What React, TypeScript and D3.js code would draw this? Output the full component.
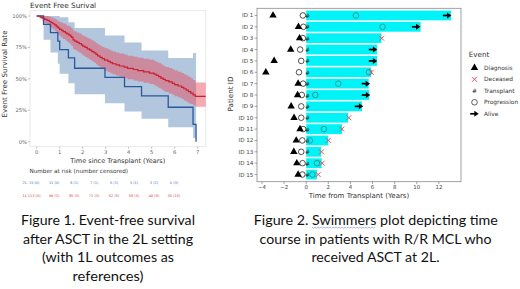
import React, { useLayoutEffect, useRef, useState } from 'react';
import * as d3 from 'd3';

const W = 520;
const H = 289;

// ---------- Figure 1: Kaplan-Meier (event free survival) ----------
const kmTitle = 'Event Free Surival';
const kmXTicks = [0, 1, 2, 3, 4, 5, 6, 7];
const kmYTicks = [0, 0.25, 0.5, 0.75, 1];

// 2L (blue)
const blueTimes = [0, 0.3, 0.6, 0.92, 1.0, 1.38, 1.65, 2.97, 3.82, 4.56, 5.72, 6.8, 6.93];
const blueSurv = [1, 0.933, 0.867, 0.8, 0.733, 0.667, 0.584, 0.511, 0.438, 0.365, 0.274, 0.137, 0];
const blueLower = [1, 0.81, 0.71, 0.62, 0.54, 0.465, 0.377, 0.305, 0.24, 0.182, 0.115, 0.03, 0.03];
const blueUpper = [1, 1, 1, 1, 0.99, 0.95, 0.905, 0.845, 0.79, 0.725, 0.665, 0.705, 0.705];

// 1L (red)
const redTimes = [0, 0.15, 0.25, 0.35, 0.45, 0.55, 0.62, 0.7, 0.78, 0.85, 0.9, 0.95, 1.0, 1.08, 1.15, 1.25, 1.32, 1.4, 1.48, 1.52, 1.58, 1.65, 1.75, 1.85, 1.95, 2.0, 2.1, 2.2, 2.3, 2.4, 2.5, 2.58, 2.65, 2.75, 2.85, 2.95, 3.1, 3.2, 3.3, 3.45, 3.6, 3.8, 3.95, 4.2, 4.4, 4.65, 4.9, 5.1, 5.2, 5.3, 5.4, 5.5, 5.6, 5.75, 5.9, 6.0, 6.15, 6.3, 6.4, 6.5, 6.6, 6.7, 6.8, 6.9];
const redSurv = [1, 0.991, 0.982, 0.973, 0.965, 0.956, 0.947, 0.938, 0.929, 0.92, 0.911, 0.903, 0.894, 0.885, 0.876, 0.866, 0.857, 0.848, 0.838, 0.829, 0.81, 0.8, 0.79, 0.78, 0.77, 0.76, 0.75, 0.739, 0.728, 0.717, 0.706, 0.695, 0.683, 0.671, 0.66, 0.648, 0.639, 0.629, 0.62, 0.611, 0.602, 0.593, 0.583, 0.574, 0.565, 0.556, 0.546, 0.537, 0.527, 0.517, 0.506, 0.495, 0.485, 0.475, 0.464, 0.454, 0.443, 0.432, 0.421, 0.41, 0.398, 0.386, 0.373, 0.36];
const redLower = [1, 0.974, 0.958, 0.944, 0.931, 0.919, 0.906, 0.894, 0.882, 0.871, 0.86, 0.849, 0.838, 0.827, 0.816, 0.805, 0.794, 0.783, 0.772, 0.762, 0.74, 0.729, 0.718, 0.707, 0.696, 0.685, 0.674, 0.662, 0.651, 0.639, 0.627, 0.615, 0.603, 0.59, 0.579, 0.565, 0.555, 0.545, 0.536, 0.526, 0.517, 0.507, 0.497, 0.487, 0.478, 0.468, 0.458, 0.448, 0.438, 0.428, 0.417, 0.406, 0.395, 0.384, 0.373, 0.362, 0.351, 0.34, 0.328, 0.317, 0.305, 0.3, 0.29, 0.278];
const redUpper = [1, 1, 1, 1, 0.999, 0.994, 0.989, 0.984, 0.978, 0.972, 0.965, 0.959, 0.953, 0.946, 0.94, 0.932, 0.925, 0.918, 0.91, 0.902, 0.886, 0.877, 0.868, 0.86, 0.851, 0.842, 0.834, 0.824, 0.815, 0.805, 0.795, 0.785, 0.774, 0.763, 0.753, 0.744, 0.735, 0.726, 0.718, 0.709, 0.701, 0.693, 0.684, 0.676, 0.668, 0.66, 0.651, 0.643, 0.634, 0.625, 0.615, 0.605, 0.595, 0.586, 0.576, 0.566, 0.556, 0.546, 0.536, 0.526, 0.516, 0.505, 0.49, 0.47];
const redEndTime = 7.35;

const riskGroups = ['2L', '1L'];
const risk2L = ['15 (0)', '11 (0)', '8 (1)', '7 (1)', '6 (1)', '5 (1)', '3 (2)', '0 (3)'];
const risk1L = ['113 (0)', '99 (2)', '85 (3)', '71 (3)', '62 (5)', '58 (5)', '46 (8)', '30 (15)'];

const caption1 = ['Figure 1. Event-free survival', 'after ASCT in the 2L setting', '(with 1L outcomes as', 'references)'];
const caption1Widths = [174, 170, 132, 71];

// ---------- Figure 2: Swimmer plot ----------
const patientIds = ['ID 1', 'ID 2', 'ID 3', 'ID 4', 'ID 5', 'ID 6', 'ID 7', 'ID 8', 'ID 9', 'ID 10', 'ID 11', 'ID 12', 'ID 13', 'ID 14', 'ID 15'];
const diagnosisTime = [-3.0, -0.7, -0.6, -1.4, -2.9, -3.65, -0.73, -0.78, -1.36, -1.1, -0.56, -0.9, -1.12, -0.85, -0.73];
const preProgressionTime = [-0.3, -0.25, -0.3, -0.55, -0.45, -0.65, -0.28, -0.4, -0.45, -0.45, -0.28, -0.35, -0.45, -0.33, -0.35];
const transplantTime = [0, 0, 0, 0, 0, 0, 0, 0, 0, 0, 0, 0, 0, 0, 0];
const followUpEnd = [13.1, 10.35, 6.8, 6.4, 6.4, 5.85, 5.65, 5.7, 5.05, 3.8, 3.25, 2.0, 1.35, 1.4, 0.97];
const postProgressionTime = [4.5, 6.9, null, null, null, 5.68, 2.9, 0.82, null, null, 1.6, 0.33, null, 0.97, 0.56];
const deceasedTime = [null, null, 6.82, null, null, 5.88, null, null, null, 3.85, 3.22, 2.0, 1.38, 1.44, 1.08];
const aliveTime = [12.75, 9.95, null, 6.05, 6.05, null, 5.4, 5.42, 4.78, null, null, null, null, null, null];
const swimXTicks = [-4, -2, 0, 2, 4, 6, 8, 10, 12];
const legendTitle = 'Event';
const legendItems = ['Diagnosis', 'Deceased', 'Transplant', 'Progression', 'Alive'];

const caption2 = ['Figure 2. ', 'Swimmers', ' plot depicting time'];
const caption2Lines = ['course in patients with R/R MCL who', 'received ASCT at 2L.'];
const caption2Widths = [244, 232, 128];

const FONT = 'DejaVu Sans';
const CAP_FONT = 'Lato';

const COLORS = {
  blueLine: '#2b579e',
  blueBand: '#b2c6de',
  redLine: '#cc1f30',
  redBand: '#e8404f',
  cyan: '#00f3f6',
  teal: '#2a9090',
  cross: '#e4505e',
};

const triPath = d3.symbol(d3.symbolTriangle, 24)() as string;
const crossPath = 'M-2.5,-2.5L2.5,2.5M-2.5,2.5L2.5,-2.5';

function Arrow({ x, y }: { x: number; y: number }) {
  return (
    <g transform={`translate(${x},${y})`}>
      <path d="M-4.3,0H0.8" stroke="#000" strokeWidth={1.7} />
      <path d="M-0.2,-3L4.2,0L-0.2,3Z" fill="#000" />
    </g>
  );
}

export default function App() {
  const swRef = useRef<SVGTSpanElement>(null);
  const [ul, setUl] = useState<{ x: number; w: number } | null>(null);

  useLayoutEffect(() => {
    const measure = () => {
      if (swRef.current) {
        const b = swRef.current.getBBox();
        setUl({ x: b.x, w: b.width });
      }
    };
    measure();
    if ((document as any).fonts) (document as any).fonts.ready.then(measure);
  }, []);

  // KM scales
  const kx = d3.scaleLinear().domain([-0.29, 7.35]).range([30, 205.7]);
  const ky = d3.scaleLinear().domain([-0.04, 1.042]).range([146.7, 10.7]);

  const blue = blueTimes.map((t, i) => ({ t, s: blueSurv[i], lo: blueLower[i], hi: blueUpper[i] }));
  const red = redTimes.map((t, i) => ({ t, s: redSurv[i], lo: redLower[i], hi: redUpper[i] }));
  const redFull = [...red, { ...red[red.length - 1], t: redEndTime }];
  const blueBandPts = blue.slice(0, -1).concat([{ ...blue[blue.length - 2], t: blueTimes[blueTimes.length - 1] }]);

  const line = d3
    .line<{ t: number; s: number }>()
    .x((d) => kx(d.t))
    .y((d) => ky(d.s))
    .curve(d3.curveStepAfter);
  const band = d3
    .area<{ t: number; lo: number; hi: number }>()
    .x((d) => kx(d.t))
    .y0((d) => ky(d.lo))
    .y1((d) => ky(d.hi))
    .curve(d3.curveStepAfter);

  const riskX = d3.scaleLinear().domain([0, 7]).range([34.2, 174]);

  // Swimmer scales
  const sx = d3.scaleLinear().domain([-4.45, 14.0]).range([257, 461]);
  const sy = d3.scaleLinear().domain([-0.63, 14.63]).range([8.3, 181.7]);
  const barH = sy(0.43) - sy(-0.43);

  const legendY = d3.scaleLinear().domain([0, 4]).range([67.8, 113.8]);

  // wavy underline
  let wavy = '';
  if (ul) {
    const pts = d3.range(0, Math.floor(ul.w / 1.5) + 1).map((k) => [ul.x + k * 1.5, 227.6 + (k % 2 === 0 ? -0.6 : 0.6)]);
    wavy = d3.line()(pts as [number, number][]) || '';
  }

  return (
    <svg width={W} height={H} style={{ position: 'absolute', left: 0, top: 0, background: '#fff' }} fontFamily={FONT}>
      <rect x={0} y={0} width={W} height={H} fill="#fff" />

      {/* ================= Figure 1 ================= */}
      <text x={30} y={7.6} fontSize={7.3} fill="#333">
        {kmTitle}
      </text>
      <rect x={30} y={10.7} width={175.7} height={136} fill="#fff" stroke="#e4e4e4" strokeWidth={0.8} />

      <path d={band(blueBandPts) || ''} fill={COLORS.blueBand} />
      <path d={band(redFull) || ''} fill={COLORS.redBand} fillOpacity={0.45} />
      <path d={line(blue) || ''} fill="none" stroke={COLORS.blueLine} strokeWidth={1.3} />
      <path d={line(redFull) || ''} fill="none" stroke={COLORS.redLine} strokeWidth={1.2} />

      {kmYTicks.map((v) => (
        <g key={'ky' + v}>
          <line x1={28} x2={30} y1={ky(v)} y2={ky(v)} stroke="#999" strokeWidth={0.6} />
          <text x={27} y={ky(v)} fontSize={5.2} fill="#666" textAnchor="end" dominantBaseline="central">
            {`${Math.round(v * 100)}%`}
          </text>
        </g>
      ))}
      {kmXTicks.map((v) => (
        <g key={'kx' + v}>
          <line x1={kx(v)} x2={kx(v)} y1={146.7} y2={148.7} stroke="#999" strokeWidth={0.6} />
          <text x={kx(v)} y={153.6} fontSize={5.2} fill="#666" textAnchor="middle">
            {v}
          </text>
        </g>
      ))}
      <text x={117.8} y={162.6} fontSize={6.5} fill="#333" textAnchor="middle">
        Time since Transplant (Years)
      </text>
      <text transform="translate(7.4,74) rotate(-90)" fontSize={7.1} fill="#333" textAnchor="middle">
        Event Free Survival Rate
      </text>
      <text x={29.4} y={172.6} fontSize={5.7} fill="#333">
        Number at risk (number censored)
      </text>

      {riskGroups.map((g, gi) => {
        const vals = gi === 0 ? risk2L : risk1L;
        const col = gi === 0 ? '#4b6fb3' : '#d8404d';
        const y = gi === 0 ? 183 : 195.6;
        return (
          <g key={g}>
            <text x={22.6} y={y} fontSize={3.7} fill={col} dominantBaseline="central">
              {g}
            </text>
            {vals.map((v, i) => (
              <text key={i} x={riskX(i)} y={y} fontSize={3.5} fill={col} textAnchor="middle" dominantBaseline="central">
                {v}
              </text>
            ))}
          </g>
        );
      })}

      {caption1.map((t, i) => (
        <text
          key={'c1' + i}
          x={108}
          y={225 + i * 18.7}
          fontFamily={CAP_FONT}
          fontSize={13.8}
          fill="#111"
          textAnchor="middle"
          textLength={caption1Widths[i]}
          lengthAdjust="spacingAndGlyphs"
        >
          {t}
        </text>
      ))}

      {/* ================= Figure 2 ================= */}
      {patientIds.map((id, i) => (
        <rect key={'bar' + id} x={sx(transplantTime[i])} y={sy(i) - barH / 2} width={sx(followUpEnd[i]) - sx(transplantTime[i])} height={barH} fill={COLORS.cyan} />
      ))}
      <rect x={257} y={8.3} width={204} height={173.4} fill="none" stroke="#8a8a8a" strokeWidth={0.8} />

      {patientIds.map((id, i) => (
        <g key={'mk' + id}>
          <circle cx={sx(preProgressionTime[i])} cy={sy(i)} r={2.8} fill="none" stroke="#222" strokeWidth={0.8} />
          <path d={triPath} transform={`translate(${sx(diagnosisTime[i])},${sy(i)})`} fill="#000" />
          <text x={sx(transplantTime[i]) + 1.2} y={sy(i)} fontSize={6} textAnchor="middle" dominantBaseline="central" fill="#111">
            #
          </text>
          {postProgressionTime[i] !== null && (
            <circle cx={sx(postProgressionTime[i] as number)} cy={sy(i)} r={2.8} fill="none" stroke={COLORS.teal} strokeWidth={0.9} />
          )}
          {deceasedTime[i] !== null && (
            <path d={crossPath} transform={`translate(${sx(deceasedTime[i] as number)},${sy(i)})`} stroke={COLORS.cross} strokeWidth={1} fill="none" />
          )}
          {aliveTime[i] !== null && <Arrow x={sx(aliveTime[i] as number)} y={sy(i)} />}
        </g>
      ))}

      {patientIds.map((id, i) => (
        <g key={'yt' + id}>
          <line x1={254.6} x2={257} y1={sy(i)} y2={sy(i)} stroke="#666" strokeWidth={0.6} />
          <text x={253.4} y={sy(i)} fontSize={5.6} fill="#444" textAnchor="end" dominantBaseline="central">
            {id}
          </text>
        </g>
      ))}
      {swimXTicks.map((v) => (
        <g key={'sx' + v}>
          <line x1={sx(v)} x2={sx(v)} y1={181.7} y2={184.1} stroke="#666" strokeWidth={0.6} />
          <text x={sx(v)} y={189.4} fontSize={5.4} fill="#444" textAnchor="middle">
            {v < 0 ? `\u2212${Math.abs(v)}` : v}
          </text>
        </g>
      ))}
      <text x={359} y={197.6} fontSize={7} fill="#333" textAnchor="middle">
        Time from Transplant (Years)
      </text>
      <text transform="translate(232.6,94) rotate(-90)" fontSize={7.2} fill="#333" textAnchor="middle">
        Patient ID
      </text>

      {/* legend */}
      <text x={468.8} y={57} fontSize={7.2} fill="#333">
        {legendTitle}
      </text>
      {legendItems.map((name, i) => {
        const y = legendY(i);
        const mx = 474.5;
        let marker: React.ReactNode = null;
        if (name === 'Diagnosis') marker = <path d={triPath} transform={`translate(${mx},${y})`} fill="#000" />;
        if (name === 'Deceased') marker = <path d={crossPath} transform={`translate(${mx},${y})`} stroke={COLORS.cross} strokeWidth={1} fill="none" />;
        if (name === 'Transplant')
          marker = (
            <text x={mx} y={y} fontSize={6} textAnchor="middle" dominantBaseline="central" fill="#111">
              #
            </text>
          );
        if (name === 'Progression') marker = <circle cx={mx} cy={y} r={2.8} fill="none" stroke="#333" strokeWidth={0.8} />;
        if (name === 'Alive') marker = <Arrow x={mx} y={y} />;
        return (
          <g key={name}>
            {marker}
            <text x={484} y={y} fontSize={5.9} fill="#333" dominantBaseline="central">
              {name}
            </text>
          </g>
        );
      })}

      {/* caption 2 */}
      <text x={375.8} y={225} fontFamily={CAP_FONT} fontSize={13.8} fill="#111" textAnchor="middle" textLength={caption2Widths[0]} lengthAdjust="spacingAndGlyphs">
        <tspan>{caption2[0]}</tspan>
        <tspan ref={swRef}>{caption2[1]}</tspan>
        <tspan>{caption2[2]}</tspan>
      </text>
      {wavy && <path d={wavy} fill="none" stroke="#8ea6e3" strokeWidth={0.8} />}
      {caption2Lines.map((t, i) => (
        <text
          key={'c2' + i}
          x={375.5}
          y={225 + (i + 1) * 18.7}
          fontFamily={CAP_FONT}
          fontSize={13.8}
          fill="#111"
          textAnchor="middle"
          textLength={caption2Widths[i + 1]}
          lengthAdjust="spacingAndGlyphs"
        >
          {t}
        </text>
      ))}
    </svg>
  );
}
